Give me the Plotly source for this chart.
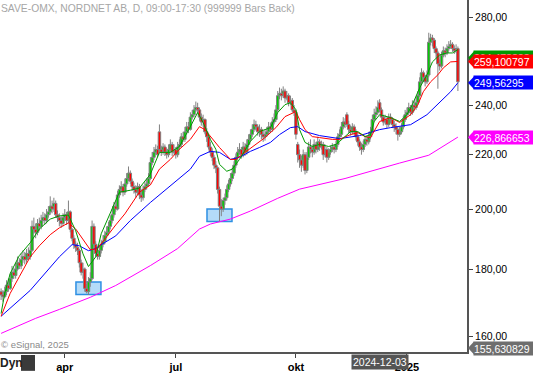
import math
import plotly.graph_objects as go

# ---------------- data ----------------
OPEN = [173,172,171.5,173,175,174,177,179,178,180,
        182,181,183,184,183,185,184,186,194,193,
        192,195,194,196,197,196,198,199,201,200,
        202,198,197,196,195,197,198,196,199,193,
        190,188,187,186,182,179,180,174,173,176,
        177,194,188,185,184,186,188,189,191,192,
        194,196,198,201,200,205,207,208,206,209,
        211,213,210,208,207,206,208,205,204,207,
        208,209,211,217,219,221,222,229,222,221,
        223,221,220,222,224,221,222,220,223,224,
        227,226,229,231,230,235,236,238,239,238,
        235,233,234,229,227,223,221,219,216,215,
        207,201,200,203,204,207,209,211,213,216,
        219,221,222,220,223,221,224,226,228,230,
        232,231,229,230,228,227,228,229,231,230,
        233,234,238,244,245,244,246,243,244,241,
        242,238,237,224,220,218,216,220,214,219,
        223,222,221,224,222,225,223,224,220,222,
        219,221,222,223,222,224,227,228,231,233,
        236,232,230,229,231,229,227,225,223,222,
        224,226,225,227,229,234,236,237,241,238,
        235,233,234,232,235,234,232,231,230,228,
        229,231,234,236,237,239,237,240,239,241,
        244,250,254,252,250,253,268,270,269,265,
        263,258,257,262,264,263,265,266,267,265,
        264,265]
HIGH = [174,173.5,174.5,176.5,177,178.5,181,180.5,182,184,
        183.5,185,186,185.5,186.5,187,188,196,197,195,
        196.5,197,198,199,198.5,200,201,204.5,203,204,
        203,199.5,198.5,197.5,198.5,200,199,203,199.5,193.5,
        191,189,188.5,186.5,183,182,180.5,175.5,177.5,179,
        196,195,189,186.5,187.5,189.5,191,192.5,194,195.5,
        197.5,200,202.5,203,206.5,208.5,210,209,211,213,
        215.5,214,211,209.5,208.5,209.5,209,206.5,208.5,210,
        211,213,219,221,223,224,223.5,232,223.5,224.5,
        224,222.5,224,226,225,224,223,225,226,228.5,
        229,231,233,233,237,238,240,241.5,241,239,
        236.5,236,234.5,230.5,228,225,222.5,220,217.5,215.5,
        208,203.5,204,205.5,208.5,210.5,213,215,217.5,220.5,
        223,224.5,223,225,224.5,226,228,230,232,234,
        233.5,232,232,231,229.5,230,231,233,232.5,235,
        236.5,240,246,247.5,247,248,247,246,245,244,
        243,240,238,225,222,219.5,222,221,221,225,
        226,223.5,226,225,227,226,225.5,225,224,223,
        222.5,223.5,224.5,224,225.5,228.5,230,233,235,234.5,
        237,233.5,231.5,232.5,232,230,228,226,224.5,225.5,
        227.5,227.5,229,231,236,238.5,239.5,242,242.5,239,
        236,236,235,236.5,236.5,235,233.5,232.5,231,231,
        232.5,235.5,238,239,241,240,242,242,243.5,246,
        252,256,255,253,255,272.5,272,271.5,270,266,
        264,260,263.5,266,265.5,267,268.5,269,268,266.5,
        267,266]
LOW = [170.5,170,171,172,173,173.5,176,177,177,179.5,
       180,180,182,181.5,182,183,183,185.5,191.5,190,
       191,192.5,193,195,194.5,195,197,198,198.5,199,
       197,195.5,194,193.5,194,196,194.5,195,192,189,
       186.5,185.5,184.5,180.5,178,177,173,172.5,172,174.5,
       176.5,187,184,183,183,185,187,188,190,191,
       193,195,197,199,199.5,204,206,204.5,205,208,
       210,209,206.5,205.5,204,205,203.5,202.5,203,206,
       207,208,210.5,216,218,220,219,221,219.5,220,
       219.5,218.5,219,221,219.5,220,218.5,219,222,223,
       225,225,228,228.5,229.5,234,235,237,236.5,233.5,
       231.5,231,228,225,222,219.5,217.5,214.5,213,205.5,
       195.5,197.5,199,201.5,203,206,208,210,212,215,
       218,220,218.5,219,219.5,220,223,225,227,229,
       229.5,227.5,227,226,225,225.5,227,228,228.5,229,
       232,233,237,242.5,242,243,241,242,239.5,240,
       237,235.5,226,217,215,213.5,215,212.5,213,218,
       220.5,219,220,220.5,221,221.5,222,218,219,217,
       218,220,221,220.5,221,223,226,227,230,230.5,
       231,228.5,227.5,228,227.5,225.5,223.5,221.5,220,221,
       223,223.5,224,226,228.5,233,235,236,237,233.5,
       231.5,232,230.5,231,232.5,230.5,229,228,225.5,227,
       228,230,233,235,236,235.5,236,237.5,238,240,
       243.5,249,250,248,249,252,266.5,266,263,260.5,
       247,255,256,261,261,262,264,265,263.5,262.5,
       263,246]
CLOSE = [172,171.5,173,175,174,177,179,178,180,182,
         181,183,184,183,185,184,186,194,193,192,
         195,194,196,197,196,198,199,201,200,202,
         198,197,196,195,197,198,196,199,193,190,
         188,187,186,182,179,180,174,173,176,177,
         194,188,185,184,186,188,189,191,192,194,
         196,198,201,200,205,207,208,206,209,211,
         213,210,208,207,206,208,205,204,207,208,
         209,211,217,219,221,222,220,222,221,223,
         221,220,222,224,221,222,220,223,224,227,
         226,229,231,230,235,236,238,239,238,235,
         233,234,229,227,223,221,219,216,215,207,
         201,200,203,204,207,209,211,213,216,219,
         221,222,220,223,221,224,226,228,230,232,
         231,229,230,228,227,228,229,231,230,233,
         234,238,244,245,244,246,243,244,241,242,
         238,237,228,220,218,216,220,214,219,223,
         222,221,224,222,225,223,224,220,222,219,
         221,222,223,222,224,227,228,231,233,232,
         232,230,229,231,229,227,225,223,222,224,
         226,225,227,229,234,236,237,239,238,235,
         233,234,232,235,234,232,231,230,228,229,
         231,234,236,237,239,237,240,239,241,244,
         250,254,252,250,253,268,270,269,265,263,
         258,257,262,264,263,265,266,267,265,264,
         265,250]

GREEN_MA_BARS = [0,2,5,10,16,21,27,32,37,41,45,48,52,55,60,65,71,76,82,87,93,
                 98,104,107,108,111,115,118,120,124,127,131,137,142,148,152,156,
                 159,162,164,167,171,175,180,184,186,189,192,196,200,203,205,208,
                 214,219,223,226,230,234,237,241,245,248,251]
GREEN_MA_VALUES = [166.5,172.5,178.6,184.3,188.5,193.1,196.5,197.6,197.9,192.5,184.9,
                   180.8,183.9,191.5,198.6,206.0,206.7,207.5,212.6,220.9,220.9,
                   223.2,231.1,235.2,236.9,232.8,226.0,222.1,216.3,213.7,214.5,
                   218.2,225.2,229.1,230.7,236.9,240.2,241.0,238.1,229.9,224.8,
                   223.2,224.0,223.2,224.0,225.2,227.1,229.1,229.1,227.1,227.9,
                   233.2,236.0,234.8,233.2,236.0,240.2,247.4,253.1,258.9,262.1,
                   263.0,263.0,264.5]
RED_MA_BARS = [0,5,10,16,21,27,32,37,41,45,49,53,57,63,68,76,82,87,93,98,
               104,107,109,112,115,120,126,129,134,140,145,151,156,162,164,167,
               171,175,182,186,192,196,200,203,208,214,219,225,229,232,236,240,
               243,247,251]
RED_MA_VALUES = [165.7,172.5,177.6,183.9,187.5,191.2,193.5,195.2,193.1,189.8,
                 186.2,186.6,189.8,194.5,198.3,206.0,208.6,214.5,218.2,222.1,
                 226.0,229.1,231.1,229.9,227.1,222.8,218.2,218.2,220.9,224.0,
                 226.7,230.7,235.2,237.3,234.0,229.9,227.1,226.7,226.0,226.0,
                 227.9,228.7,227.1,226.7,233.2,234.8,232.8,236.0,240.2,245.7,
                 250.0,253.1,256.2,258.9,259.1]
BLUE_MA_BARS = [0,16,32,39,43,48,52,54,63,71,82,93,104,109,115,120,126,131,137,
                142,148,153,159,163,167,175,186,197,208,214,225,234,241,247,251]
BLUE_MA_VALUES = [165.7,173.4,183.9,187.9,187.5,185.9,186.6,187.5,190.8,196.0,
                  202.3,208.2,214.5,219.4,221.3,220.9,218.2,219.0,221.3,222.8,
                  224.8,227.9,230.7,231.1,229.1,227.5,226.3,227.5,229.9,230.7,
                  231.9,236.0,241.4,245.7,249.6]
MAGENTA_MA_BARS = [0,19,32,49,63,82,97,109,115,126,137,152,164,189,219,235,251]
MAGENTA_MA_VALUES = [160.8,165.1,167.7,171.3,174.9,181.1,186.6,193.1,194.8,196.5,
                     199.3,203.8,207.1,211.0,216.8,219.8,226.9]

TICK_BARS = [35, 96, 162, 223]
TICK_LABELS = ['apr', 'jul', 'okt', '2025']
Y_TICKS = [160, 180, 200, 220, 240, 260, 280]
LAST_VALUES = [264.478823, 259.100797, 249.56295, 226.866653]
AXIS_LOW = 155.630829
AXIS_HIGH = 288.6
HIGHLIGHT_BARS = [48, 120]
HIGHLIGHT_VALUES = [172, 195.5]
CURSOR_BAR = 208
CURSOR_LABEL = '2024-12-03'
TITLE = 'SAVE-OMX, NORDNET AB, D, 09:00-17:30 (999999 Bars Back)'
CREDIT = '\u00a9 eSignal, 2025'

# ---------------- style ----------------
SANS = 'Liberation Sans, Arial, sans-serif'
W, H = 533, 373
ML, MR, MT, MB = 0, 66, 0, 18
PW, PH = W - ML - MR, H - MT - MB
MA_COLORS = ['#ff00ff', '#0000ff', '#ff0000', '#009900']
LABEL_COLORS = ['#009900', '#ff0000', '#0000ff', '#ff00ff']
LABEL_SHIFTS = [-8, 0, 0, 0]
WICK = '#808080'
UP_FILL, DOWN_FILL = '#00cc00', '#ff0000'
BODY_WIDTH = 1.35  # in bar units
SMALL = 10.5

n = len(CLOSE)
bars = list(range(n))
assert len(OPEN) == len(HIGH) == len(LOW) == n

fig = go.Figure()

# candle bodies (bars from min(open, close) to max(open, close))
for up, fill in [(True, UP_FILL), (False, DOWN_FILL)]:
    idx = [i for i in bars if (CLOSE[i] >= OPEN[i]) == up]
    fig.add_trace(go.Bar(
        x=idx, base=[min(OPEN[i], CLOSE[i]) for i in idx],
        y=[max(abs(CLOSE[i] - OPEN[i]), 0.3) for i in idx],
        width=BODY_WIDTH, marker=dict(color=fill, line=dict(color=WICK, width=1)),
        showlegend=False, hoverinfo='skip'))

# wicks
wx, wy = [], []
for i in bars:
    top, bot = max(OPEN[i], CLOSE[i]), min(OPEN[i], CLOSE[i])
    wx += [i, i, None, i, i, None]
    wy += [HIGH[i], top, None, bot, LOW[i], None]
fig.add_trace(go.Scatter(x=wx, y=wy, mode='lines', line=dict(color=WICK, width=1),
                         showlegend=False, hoverinfo='skip'))

for (bx, vals), col in zip([(MAGENTA_MA_BARS, MAGENTA_MA_VALUES),
                            (BLUE_MA_BARS, BLUE_MA_VALUES),
                            (RED_MA_BARS, RED_MA_VALUES),
                            (GREEN_MA_BARS, GREEN_MA_VALUES)], MA_COLORS):
    fig.add_trace(go.Scatter(x=bx, y=vals, mode='lines',
                             line=dict(color=col, width=1),
                             showlegend=False, hoverinfo='skip'))

# highlight boxes around swing lows
for b, v in zip(HIGHLIGHT_BARS, HIGHLIGHT_VALUES):
    fig.add_shape(type='rect', xref='x', yref='y', xsizemode='pixel', ysizemode='pixel',
                  xanchor=b, yanchor=v, x0=-12.5, x1=12.5, y0=-13, y1=13,
                  fillcolor='#b4dbf8', line=dict(color='#2d8fe3', width=1.5), layer='below')

lo, hi = math.log10(AXIS_LOW), math.log10(AXIS_HIGH)


def ypix(v):
    return (1 - (math.log10(v) - lo) / (hi - lo)) * PH


def px_to_paper_x(px):
    return (px - ML) / PW


def px_to_paper_y(py):
    return 1 - (py - MT) / PH


def add_value_label(value, color, shift):
    yc = ypix(value) - shift
    tip, body = PW + 1, PW + 6
    path = 'M {} {} L {} {} L {} {} Z'.format(
        px_to_paper_x(tip), px_to_paper_y(yc),
        px_to_paper_x(body + 1), px_to_paper_y(yc - 6.5),
        px_to_paper_x(body + 1), px_to_paper_y(yc + 6.5))
    fig.add_shape(type='path', path=path, xref='paper', yref='paper',
                  fillcolor=color, line=dict(width=0), layer='above')
    fig.add_annotation(xref='paper', yref='paper', x=px_to_paper_x(body),
                       y=px_to_paper_y(yc), xanchor='left', yanchor='middle',
                       text=str(value).replace('.', ',') + '\u00a0' * 5, showarrow=False,
                       bgcolor=color, borderpad=0, height=13, align='left',
                       font=dict(family=SANS, size=SMALL, color='white'))


for v, c, s in zip(LAST_VALUES, LABEL_COLORS, LABEL_SHIFTS):
    add_value_label(v, c, s)
add_value_label(AXIS_LOW, '#6e6e6e', 4)

# texts
fig.add_annotation(xref='paper', yref='paper', x=0, y=1, xanchor='left', yanchor='top',
                   text=TITLE, showarrow=False, xshift=-1, yshift=-1,
                   font=dict(family=SANS, size=10.3, color='#a6a6a6'))
fig.add_annotation(xref='paper', yref='paper', x=0, y=px_to_paper_y(347),
                   xanchor='left', yanchor='middle', text=CREDIT, showarrow=False, xshift=-1,
                   font=dict(family=SANS, size=9.5, color='#8a8a8a'))
fig.add_annotation(xref='paper', yref='paper', x=0, y=px_to_paper_y(366),
                   xanchor='left', yanchor='middle', text='Dyn', showarrow=False, xshift=-2,
                   font=dict(family=SANS, size=12, color='#222222', weight='bold'))
fig.add_shape(type='rect', xref='paper', yref='paper',
              x0=px_to_paper_x(21), x1=px_to_paper_x(35),
              y0=px_to_paper_y(358), y1=px_to_paper_y(374),
              fillcolor='#3a3a3a', line=dict(width=0), layer='above')
fig.add_annotation(xref='x', yref='paper', x=CURSOR_BAR, y=px_to_paper_y(357.5),
                   xanchor='center', yanchor='top', text=CURSOR_LABEL, showarrow=False,
                   bgcolor='#555555', borderpad=1,
                   font=dict(family=SANS, size=SMALL, color='white'))

fig.update_layout(
    width=W, height=H, margin=dict(l=ML, r=MR, t=MT, b=MB, pad=0),
    paper_bgcolor='white', plot_bgcolor='white', separators=',.',
    showlegend=False, barmode='overlay',
    font=dict(family=SANS, size=SMALL, color='black'))
fig.update_xaxes(range=[-0.6, 256], tickmode='array', tickvals=TICK_BARS, ticktext=TICK_LABELS,
                 ticks='outside', ticklen=4, tickcolor='#444444', showline=True,
                 linecolor='#555555', linewidth=2, showgrid=False, zeroline=False,
                 tickfont=dict(family=SANS, size=11, color='black', weight='bold'))
fig.update_yaxes(type='log', side='right', range=[lo, hi], tickmode='array', tickvals=Y_TICKS,
                 tickformat='.2f', ticks='outside', ticklen=4, tickcolor='#444444',
                 showline=True, linecolor='#555555', linewidth=2, showgrid=False,
                 zeroline=False, tickfont=dict(family=SANS, size=SMALL, color='black'))

fig.write_html('out.html', config={'displayModeBar': False},
               post_script="document.body.style.margin='0';document.body.style.overflow='hidden';")
